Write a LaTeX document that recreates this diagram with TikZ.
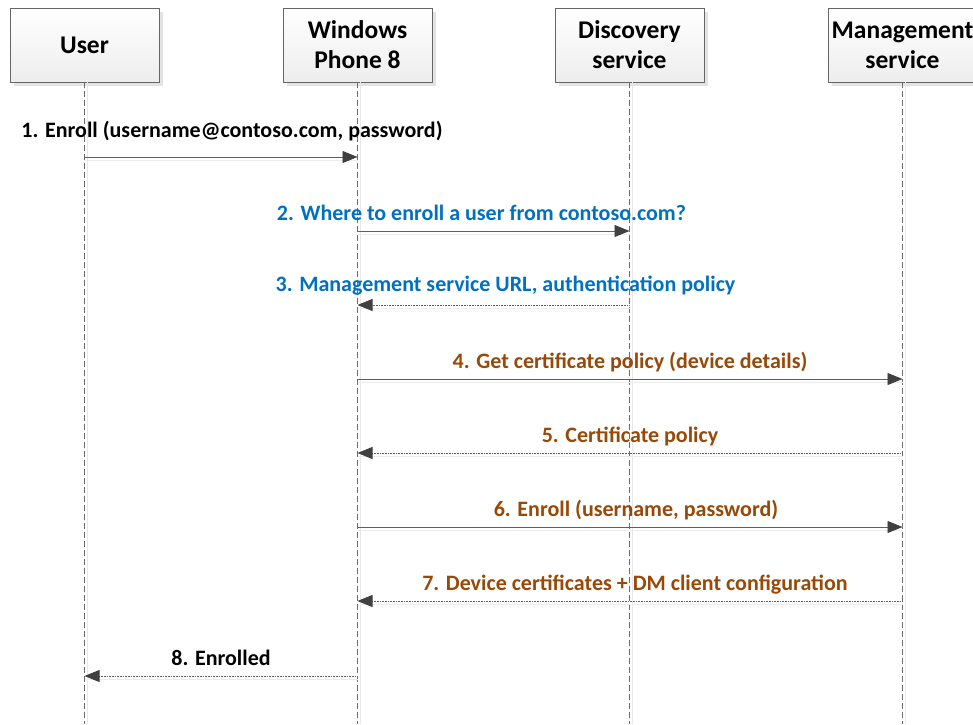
\documentclass[tikz,border=0pt]{standalone}
\usepackage{fontspec}
\setmainfont{Carlito}
\usetikzlibrary{arrows.meta,shadows}
\definecolor{msgblue}{HTML}{0070C0}
\definecolor{msgbrown}{HTML}{984807}
\tikzset{
  actor/.style={draw=gray!80!black, top color=white, bottom color=gray!14,
    minimum width=149pt, minimum height=74pt, align=center, inner sep=0pt,
    font=\bfseries\fontsize{25.5}{30}\selectfont,
    drop shadow={shadow xshift=4pt, shadow yshift=-4pt, fill=gray!22, opacity=1}},
  life/.style={draw=gray!85!black, line width=0.8pt, dash pattern=on 6pt off 3pt,
    preaction={draw=gray!18, solid, transform canvas={xshift=3pt}}},
  call/.style={draw=gray!75!black, line width=0.9pt,
    -{Triangle[length=15pt,width=12pt,color=black!75,fill=black!75]},
    preaction={draw=gray!15, -, transform canvas={yshift=-3pt}}},
  reply/.style={call, dash pattern=on 1pt off 0.6pt},
  lbl/.style={anchor=base, inner sep=0pt, yshift=10.5pt,
    font=\bfseries\fontsize{22}{24}\selectfont}
}
\begin{document}
\begin{tikzpicture}[x=1pt,y=1pt]
  \useasboundingbox (0,0) rectangle (973,-724);
  % actors
  \node[actor] (user) at (84.5,-45) {User};
  \node[actor] (wp) at (357.5,-45) {Windows\\Phone 8};
  \node[actor] (disc) at (629.5,-45) {Discovery\\service};
  \node[actor] (mgmt) at (902.5,-45) {Management\\service};
  % lifelines
  \coordinate (bottom) at (0,-724);
  \draw[life] (user.south) -- (user |- bottom);
  \draw[life] (wp.south) -- (wp |- bottom);
  \draw[life] (disc.south) -- (disc |- bottom);
  \draw[life] (mgmt.south) -- (mgmt |- bottom);
  % messages
  \coordinate (m1) at (0,-157);
  \coordinate (m2) at (0,-231);
  \coordinate (m3) at (0,-305);
  \coordinate (m4) at (0,-379);
  \coordinate (m5) at (0,-453);
  \coordinate (m6) at (0,-527);
  \coordinate (m7) at (0,-601);
  \coordinate (m8) at (0,-676);
  \draw[call] (user |- m1) -- node[lbl, yshift=9pt, xshift=11pt] {1. Enroll (username@contoso.com, password)} (wp |- m1);
  \draw[call] (wp |- m2) -- node[lbl, text=msgblue, xshift=-12pt] {2. Where to enroll a user from contoso.com?} (disc |- m2);
  \draw[reply] (disc |- m3) -- node[lbl, text=msgblue, yshift=3pt, xshift=12pt] {3. Management service URL, authentication policy} (wp |- m3);
  \draw[call] (wp |- m4) -- node[lbl, text=msgbrown] {4. Get certificate policy (device details)} (mgmt |- m4);
  \draw[reply] (mgmt |- m5) -- node[lbl, text=msgbrown] {5. Certificate policy} (wp |- m5);
  \draw[call] (wp |- m6) -- node[lbl, text=msgbrown, xshift=6pt] {6. Enroll (username, password)} (mgmt |- m6);
  \draw[reply] (mgmt |- m7) -- node[lbl, text=msgbrown, xshift=5pt] {7. Device certificates + DM client configuration} (wp |- m7);
  \draw[reply] (wp |- m8) -- node[lbl] {8. Enrolled} (user |- m8);
\end{tikzpicture}
\end{document}
